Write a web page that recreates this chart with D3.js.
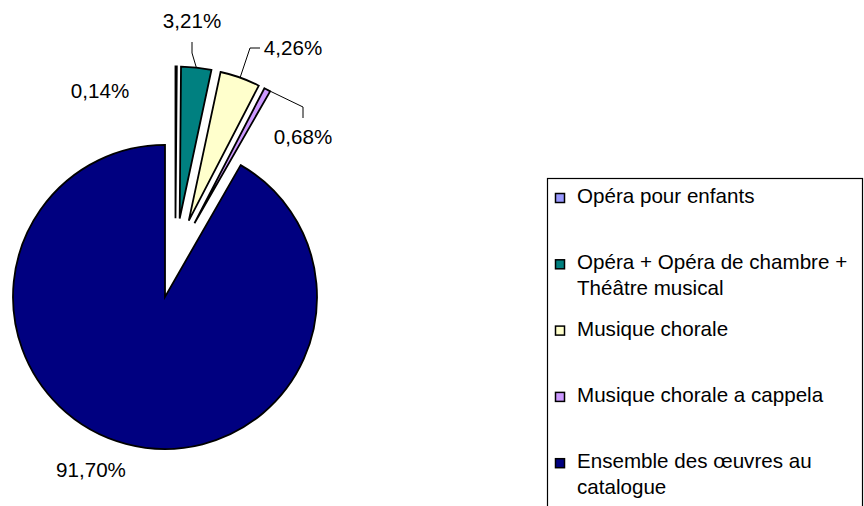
<!DOCTYPE html>
<html>
<head>
<meta charset="utf-8">
<script src="https://cdn.jsdelivr.net/npm/d3@7"></script>
<style>
  html, body { margin: 0; padding: 0; background: #fff; }
  svg text { font-family: "Liberation Sans", Arial, sans-serif; font-size: 20.6px; fill: #000; }
</style>
</head>
<body>
<svg id="chart" width="864" height="506"></svg>
<script>
// Data
const categories = [
  "Opéra pour enfants",
  "Opéra + Opéra de chambre + Théâtre musical",
  "Musique chorale",
  "Musique chorale a cappela",
  "Ensemble des œuvres au catalogue"
];
const values = [0.14, 3.21, 4.26, 0.68, 91.70];
const valueLabels = ["0,14%", "3,21%", "4,26%", "0,68%", "91,70%"];
const legendLines = [
  ["Opéra pour enfants"],
  ["Opéra + Opéra de chambre +", "Théâtre musical"],
  ["Musique chorale"],
  ["Musique chorale a cappela"],
  ["Ensemble des œuvres au", "catalogue"]
];
const colors = ["#9999FF", "#008080", "#FFFFCC", "#CC99FF", "#000080"];

// layout
const cx = 175.3, cy = 258.3, radius = 152, explode = 40;
// label anchor (center, baseline) and optional leader line start/bend
const labelLayout = [
  { x: 100, y: 98 },
  { x: 192, y: 28, line: [[192, 42], [192, 53]] },
  { x: 293, y: 55, line: [[260, 48], [250, 48]] },
  { x: 303, y: 144, line: [[303, 118], [303, 107]] },
  { x: 91, y: 477 }
];

const svg = d3.select("#chart");

const pie = d3.pie().sort(null).value(d => d)(values);
const arc = d3.arc().innerRadius(0).outerRadius(radius);

const dir = d => {
  const a = (d.startAngle + d.endAngle) / 2;
  return [Math.sin(a), -Math.cos(a)];
};

const g = svg.append("g").attr("transform", `translate(${cx},${cy})`);

g.selectAll("path")
  .data(pie)
  .join("path")
  .attr("d", arc)
  .attr("transform", d => {
    const [dx, dy] = dir(d);
    return `translate(${dx * explode},${dy * explode})`;
  })
  .attr("fill", (d, i) => colors[i])
  .attr("stroke", "#000")
  .attr("stroke-width", 1.8)
  .attr("stroke-linejoin", "miter");

// leader lines
const line = d3.line();
pie.forEach((d, i) => {
  const lay = labelLayout[i];
  if (!lay.line) return;
  const [dx, dy] = dir(d);
  const end = [cx + dx * (explode + radius), cy + dy * (explode + radius)];
  svg.append("path")
    .attr("d", line([...lay.line, end]))
    .attr("fill", "none")
    .attr("stroke", "#000")
    .attr("stroke-width", 1);
});

// value labels
svg.selectAll("text.val")
  .data(valueLabels)
  .join("text")
  .attr("class", "val")
  .attr("x", (d, i) => labelLayout[i].x)
  .attr("y", (d, i) => labelLayout[i].y)
  .attr("text-anchor", "middle")
  .text(d => d);

// legend
const legend = svg.append("g");
legend.append("rect")
  .attr("x", 547.5).attr("y", 178.5)
  .attr("width", 315).attr("height", 340)
  .attr("fill", "#fff")
  .attr("stroke", "#000")
  .attr("stroke-width", 1.2);

const rowY = d3.scaleLinear().domain([0, 1]).range([203, 269.3]);

const items = legend.selectAll("g.item")
  .data(categories)
  .join("g")
  .attr("class", "item")
  .attr("transform", (d, i) => `translate(0,${rowY(i)})`);

items.append("rect")
  .attr("x", 555.5).attr("y", -9.5)
  .attr("width", 9).attr("height", 9)
  .attr("fill", (d, i) => colors[i])
  .attr("stroke", "#000")
  .attr("stroke-width", 1.5);

items.append("text")
  .attr("x", 577)
  .attr("y", 0)
  .selectAll("tspan")
  .data((d, i) => legendLines[i])
  .join("tspan")
  .attr("x", 577)
  .attr("dy", (d, j) => j === 0 ? 0 : 26)
  .text(d => d);
</script>
</body>
</html>
